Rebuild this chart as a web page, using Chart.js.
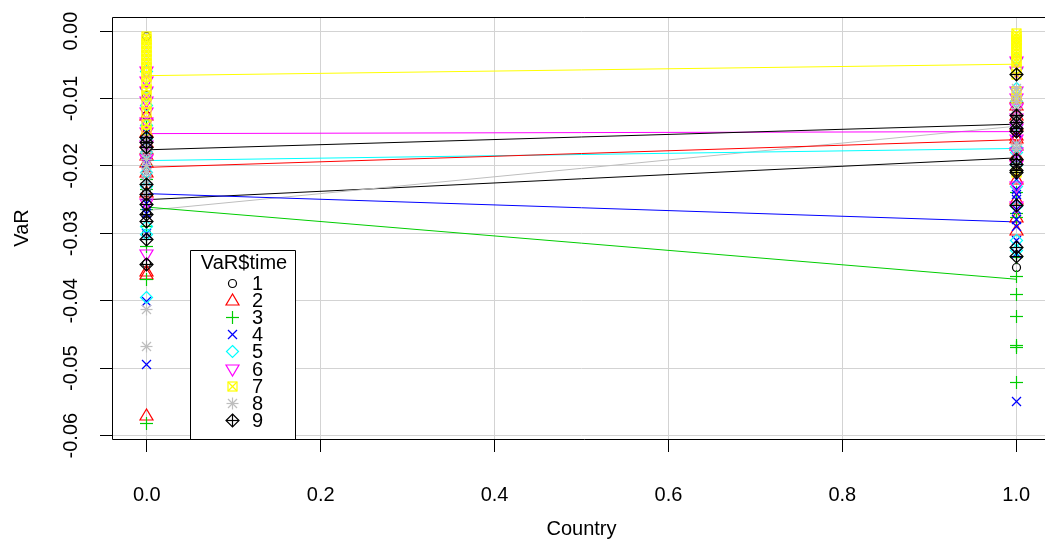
<!DOCTYPE html>
<html><head><meta charset="utf-8">
<script src="https://cdn.jsdelivr.net/npm/chart.js@4/dist/chart.umd.min.js"></script>
<style>
html,body{margin:0;padding:0;background:#fff;overflow:hidden;}
#wrap{position:relative;width:1060px;height:541px;}
</style></head><body>
<div id="wrap"><canvas id="c"></canvas></div>
<script>
// ---------- data ----------
const groups = ['1','2','3','4','5','6','7','8','9'];
const countries = [0, 1];
const xTickValues = [0, 0.2, 0.4, 0.6, 0.8, 1.0];
const yTickValues = [0, -0.01, -0.02, -0.03, -0.04, -0.05, -0.06];

// VaR values at Country = 0
const g1_c0 = [-0.0008, -0.0095, -0.0125, -0.0160, -0.0175, -0.0190, -0.0205, -0.0240, -0.0270, -0.0300, -0.0345];
const g2_c0 = [-0.0125, -0.0150, -0.0165, -0.0175, -0.0185, -0.0195, -0.0210, -0.0240, -0.0357, -0.0361, -0.0570];
const g3_c0 = [-0.0140, -0.0160, -0.0180, -0.0200, -0.0220, -0.0235, -0.0250, -0.0265, -0.0290, -0.0320, -0.0369, -0.0582];
const g4_c0 = [-0.0150, -0.0165, -0.0180, -0.0195, -0.0210, -0.0225, -0.0240, -0.0255, -0.0270, -0.0300, -0.0401, -0.0495];
const g5_c0 = [-0.0060, -0.0085, -0.0110, -0.0140, -0.0160, -0.0180, -0.0210, -0.0230, -0.0290, -0.0302, -0.0395];
const g6_c0 = [-0.0060, -0.0075, -0.0090, -0.0105, -0.0120, -0.0135, -0.0150, -0.0170, -0.0190, -0.0255, -0.0332];
const g7_c0 = [-0.0008, -0.0013, -0.0018, -0.0024, -0.0030, -0.0036, -0.0042, -0.0048, -0.0054, -0.0061, -0.0068, -0.0077, -0.0086, -0.0095, -0.0108, -0.0121, -0.0138, -0.0148];
const g8_c0 = [-0.0160, -0.0170, -0.0180, -0.0190, -0.0200, -0.0210, -0.0225, -0.0240, -0.0413, -0.0468];
const g9_c0 = [-0.0158, -0.0165, -0.0173, -0.0228, -0.0243, -0.0257, -0.0272, -0.0283, -0.0309, -0.0346];

// VaR values at Country = 1
const g1_c1 = [-0.0100, -0.0110, -0.0120, -0.0125, -0.0130, -0.0140, -0.0150, -0.0160, -0.0190, -0.0200, -0.0350];
const g2_c1 = [-0.0100, -0.0110, -0.0125, -0.0140, -0.0155, -0.0159, -0.0170, -0.0185, -0.0220, -0.0250, -0.0276, -0.0295];
const g3_c1 = [-0.0210, -0.0240, -0.0270, -0.0276, -0.0336, -0.0364, -0.0390, -0.0424, -0.0467, -0.0470, -0.0521];
const g4_c1 = [-0.0150, -0.0220, -0.0235, -0.0243, -0.0250, -0.0265, -0.0280, -0.0290, -0.0310, -0.0330, -0.0550];
const g5_c1 = [-0.0040, -0.0055, -0.0085, -0.0105, -0.0140, -0.0173, -0.0180, -0.0200, -0.0230, -0.0260, -0.0310, -0.0325];
const g6_c1 = [-0.0045, -0.0060, -0.0090, -0.0100, -0.0115, -0.0130, -0.0145, -0.0160, -0.0180, -0.0200, -0.0230, -0.0260];
const g7_c1 = [-0.0003, -0.0008, -0.0012, -0.0016, -0.0020, -0.0025, -0.0030, -0.0035, -0.0040, -0.0045, -0.0055, -0.0065, -0.0090, -0.0100, -0.0210];
const g8_c1 = [-0.0085, -0.0095, -0.0105, -0.0115, -0.0125, -0.0135, -0.0145, -0.0168, -0.0175, -0.0200];
const g9_c1 = [-0.0065, -0.0125, -0.0136, -0.0145, -0.0149, -0.0190, -0.0198, -0.0206, -0.0210, -0.0258, -0.0321, -0.0335];

// fitted lines per group (value at Country = 0 and Country = 1)
const fitAtCountry0 = [-0.0176, -0.0202, -0.0261, -0.0241, -0.0192, -0.0152, -0.0066, -0.0266, -0.0250];
const fitAtCountry1 = [-0.0138, -0.0161, -0.0368, -0.0283, -0.0174, -0.0149, -0.0049, -0.0141, -0.0188];

// ---------- styles ----------
const palette = ['#000000', '#FF0000', '#00CD00', '#0000FF', '#00FFFF', '#FF00FF', '#FFFF00', '#BEBEBE', '#000000'];
const FONT = '"Liberation Sans", Arial, sans-serif';
const FS = 20;

const valuesC0 = [g1_c0, g2_c0, g3_c0, g4_c0, g5_c0, g6_c0, g7_c0, g8_c0, g9_c0];
const valuesC1 = [g1_c1, g2_c1, g3_c1, g4_c1, g5_c1, g6_c1, g7_c1, g8_c1, g9_c1];

function makeSymbol(pch, color) {
  const S = 17, c = 8.5;
  const cv = document.createElement('canvas');
  cv.width = S; cv.height = S;
  const ctx = cv.getContext('2d');
  ctx.strokeStyle = color; ctx.lineWidth = 1.2;
  const line = (x1, y1, x2, y2) => { ctx.beginPath(); ctx.moveTo(x1, y1); ctx.lineTo(x2, y2); ctx.stroke(); };
  const poly = pts => { ctx.beginPath(); ctx.moveTo(pts[0][0], pts[0][1]); for (let i = 1; i < pts.length; i++) ctx.lineTo(pts[i][0], pts[i][1]); ctx.closePath(); ctx.stroke(); };
  switch (pch) {
    case 1: ctx.beginPath(); ctx.arc(c, c, 4, 0, Math.PI * 2); ctx.stroke(); break;
    case 2: poly([[c, c - 6.5], [c - 6.5, c + 4.5], [c + 6.5, c + 4.5]]); break;
    case 3: line(c - 6.5, c, c + 6.5, c); line(c, c - 6.5, c, c + 6.5); break;
    case 4: line(c - 4.5, c - 4.5, c + 4.5, c + 4.5); line(c - 4.5, c + 4.5, c + 4.5, c - 4.5); break;
    case 5: poly([[c, c - 6], [c + 6, c], [c, c + 6], [c - 6, c]]); break;
    case 6: poly([[c - 6.5, c - 4.5], [c + 6.5, c - 4.5], [c, c + 6.5]]); break;
    case 7: ctx.strokeRect(c - 4.5, c - 4.5, 9, 9); line(c - 4.5, c - 4.5, c + 4.5, c + 4.5); line(c - 4.5, c + 4.5, c + 4.5, c - 4.5); break;
    case 8: line(c - 6, c, c + 6, c); line(c, c - 6, c, c + 6); line(c - 4.5, c - 4.5, c + 4.5, c + 4.5); line(c - 4.5, c + 4.5, c + 4.5, c - 4.5); break;
    case 9: poly([[c, c - 6.5], [c + 6.5, c], [c, c + 6.5], [c - 6.5, c]]); line(c - 6.5, c, c + 6.5, c); line(c, c - 6.5, c, c + 6.5); break;
  }
  return cv;
}
const symbols = groups.map((g, i) => makeSymbol(i + 1, palette[i]));

const datasets = [];
groups.forEach((g, i) => {
  datasets.push({
    type: 'line', label: 'fit ' + g,
    data: countries.map((cx, k) => ({ x: cx, y: k === 0 ? fitAtCountry0[i] : fitAtCountry1[i] })),
    borderColor: palette[i], borderWidth: 1, pointRadius: 0, fill: false, tension: 0,
    order: 100, clip: false
  });
});
groups.forEach((g, i) => {
  const pts = valuesC0[i].map(v => ({ x: countries[0], y: v })).concat(valuesC1[i].map(v => ({ x: countries[1], y: v })));
  datasets.push({
    type: 'scatter', label: g, data: pts,
    pointStyle: symbols[i], pointRadius: 8, pointHoverRadius: 8,
    borderColor: palette[i], backgroundColor: 'transparent', showLine: false,
    order: 50 - i
  });
});

const crispPlugin = {
  id: 'crisp',
  beforeDatasetsDraw(chart) { chart.ctx.imageSmoothingEnabled = false; },
  afterDatasetsDraw(chart) { chart.ctx.imageSmoothingEnabled = true; }
};

const boxPlugin = {
  id: 'rbox',
  afterDraw(chart) {
    const { ctx, chartArea: a } = chart;
    ctx.save();
    ctx.strokeStyle = '#000'; ctx.lineWidth = 1;
    ctx.beginPath();
    ctx.moveTo(a.right + 5, a.top + 0.5); ctx.lineTo(a.left + 0.5, a.top + 0.5);
    ctx.lineTo(a.left + 0.5, a.bottom + 0.5); ctx.lineTo(a.right + 5, a.bottom + 0.5);
    ctx.stroke();
    // legend
    const lx = 190.5, ly = 250.5, lw = 105;
    ctx.fillStyle = '#fff';
    ctx.fillRect(lx, ly, lw, a.bottom - ly);
    ctx.beginPath();
    ctx.moveTo(lx, a.bottom); ctx.lineTo(lx, ly); ctx.lineTo(lx + lw, ly); ctx.lineTo(lx + lw, a.bottom);
    ctx.stroke();
    ctx.fillStyle = '#000';
    ctx.font = FS + 'px ' + FONT;
    ctx.textBaseline = 'middle';
    ctx.textAlign = 'center';
    ctx.fillText('VaR$time', lx + lw / 2 + 1, 263);
    ctx.textAlign = 'left';
    ctx.imageSmoothingEnabled = false;
    groups.forEach((g, i) => {
      const yy = 283.5 + i * 17.1;
      ctx.drawImage(symbols[i], 232 - 8.5, Math.round(yy - 8.5));
      ctx.fillText(g, 252, yy + 1);
    });
    ctx.restore();
  }
};

new Chart(document.getElementById('c'), {
  type: 'scatter',
  data: { datasets },
  plugins: [crispPlugin, boxPlugin],
  options: {
    responsive: true, maintainAspectRatio: false, animation: false,
    layout: { padding: { top: 17, right: 7, left: 0, bottom: 0 } },
    plugins: { legend: { display: false }, tooltip: { enabled: false } },
    scales: {
      x: {
        type: 'linear', min: -0.04, max: 1.04,
        afterBuildTicks: s => { s.ticks = xTickValues.map(v => ({ value: v })); },
        afterFit: s => { s.height = 102; s.paddingLeft = 0; s.paddingRight = 0; },
        grid: { color: '#D3D3D3', tickColor: '#000', tickLength: 13, lineWidth: 1 },
        border: { display: false },
        ticks: { color: '#000', font: { family: FONT, size: FS }, padding: 31, autoSkip: false, maxRotation: 0, callback: v => Number(v).toFixed(1) },
        title: { display: true, text: 'Country', color: '#000', font: { family: FONT, size: FS }, padding: { top: 0, bottom: 0 } }
      },
      y: {
        type: 'linear', min: -0.0605, max: 0.0021,
        afterBuildTicks: s => { s.ticks = yTickValues.map(v => ({ value: v })); },
        afterFit: s => { s.width = 112; s.paddingTop = 0; s.paddingBottom = 0; },
        grid: { color: '#D3D3D3', tickColor: '#000', tickLength: 12, lineWidth: 1 },
        border: { display: false },
        ticks: { color: '#000', font: { family: FONT, size: FS }, padding: 6, autoSkip: false, minRotation: 90, maxRotation: 90, crossAlign: 'center', callback: v => Number(v).toFixed(2) },
        title: { display: true, text: 'VaR', color: '#000', font: { family: FONT, size: FS }, padding: { top: 10, bottom: 0 } }
      }
    }
  }
});
</script>
</body></html>
